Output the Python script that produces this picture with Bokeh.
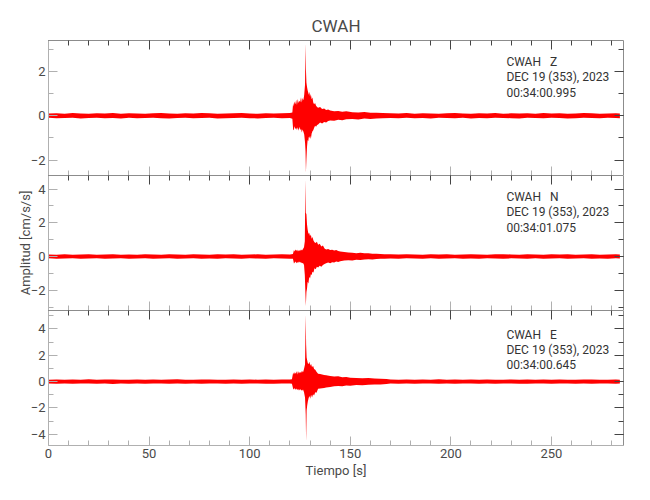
from bokeh.plotting import figure
from bokeh.models import Range1d, LinearAxis, SingleIntervalTicker, Label
from bokeh.layouts import column
from bokeh.embed import file_html
from bokeh.resources import INLINE

FONT = "Roboto"
TXT = "#4a4a4a"
NBSP = "\u00a0"

station = "CWAH"
components = ["Z", "N", "E"]
date_line = "DEC 19 (353), 2023"
start_times = ["00:34:00.995", "00:34:01.075", "00:34:00.645"]
x_label = "Tiempo [s]"
y_label = "Amplitud [cm/s/s]"

# sample times (s) of the envelope knots
t_pre = [0, 4, 8, 12, 16, 20, 24, 28, 32, 36, 40, 44, 48, 52, 56, 60, 64, 68, 72, 76,
         80, 84, 88, 92, 96, 100, 104, 108, 112, 116, 120]
t_post = [170, 174, 178, 182, 186, 190, 194, 198, 202, 206, 210, 214, 218, 222, 226,
          230, 234, 238, 242, 246, 250, 254, 258, 262, 266, 270, 274, 278, 282, 284]

# ---- Z component (upper / lower envelope, cm/s/s)
z_pre_hi = [0.10, 0.11, 0.09, 0.12, 0.10, 0.09, 0.11, 0.10, 0.12, 0.09, 0.11, 0.10, 0.09, 0.11, 0.12,
            0.10, 0.09, 0.11, 0.10, 0.12, 0.11, 0.09, 0.10, 0.11, 0.12, 0.10, 0.09, 0.11, 0.10, 0.11, 0.12]
z_pre_lo = [-0.09, -0.11, -0.10, -0.09, -0.12, -0.10, -0.09, -0.11, -0.10, -0.12, -0.09, -0.11, -0.10,
            -0.09, -0.11, -0.12, -0.10, -0.09, -0.11, -0.10, -0.09, -0.12, -0.11, -0.10, -0.09, -0.11,
            -0.12, -0.10, -0.09, -0.11, -0.10]
z_ev_t = [121.2, 121.6, 121.9, 122.3, 122.7, 123.1, 123.5, 123.9, 124.3, 124.7, 125.1, 125.5, 125.9,
          126.3, 126.7, 127.1, 127.5, 127.75, 127.95, 128.2, 128.5, 128.8, 129.1, 129.4, 129.7, 130.0,
          130.4, 130.8, 131.2, 131.6, 132.0, 132.5, 133.0, 133.5, 134.0, 135, 136, 137, 138, 139, 140,
          142, 144, 146, 148, 151, 154, 157, 160, 163, 166]
z_ev_hi = [0.15, 0.58, 0.42, 0.64, 0.52, 0.72, 0.48, 0.76, 0.58, 0.68,
           0.62, 0.84, 0.60, 0.80, 0.70, 0.95, 1.40, 3.26, 2.10, 1.50,
           1.30, 1.15, 1.05, 0.95, 1.08, 0.85, 0.98, 0.75, 0.82, 0.60,
           0.52, 0.58, 0.45, 0.40, 0.36, 0.40, 0.30, 0.33, 0.26, 0.28,
           0.24, 0.20, 0.22, 0.18, 0.20, 0.16, 0.15, 0.17, 0.14, 0.13, 0.12]
z_ev_lo = [-0.14, -0.62, -0.66, -0.48, -0.60, -0.55, -0.64, -0.52, -0.68, -0.50,
           -0.66, -0.58, -0.76, -0.62, -0.72, -0.85, -1.20, -1.60, -2.55, -1.95,
           -1.40, -1.10, -1.15, -0.95, -1.00, -0.90, -1.05, -0.80, -0.70, -0.65,
           -0.55, -0.45, -0.50, -0.42, -0.40, -0.30, -0.35, -0.28, -0.30, -0.24,
           -0.22, -0.23, -0.18, -0.20, -0.16, -0.15, -0.17, -0.13, -0.15, -0.12, -0.11]
z_post_hi = [0.11, 0.10, 0.12, 0.09, 0.11, 0.10, 0.09, 0.11, 0.12, 0.10, 0.09, 0.11, 0.10, 0.12, 0.09,
             0.11, 0.10, 0.11, 0.09, 0.12, 0.10, 0.11, 0.09, 0.10, 0.12, 0.11, 0.09, 0.10, 0.11, 0.10]
z_post_lo = [-0.10, -0.11, -0.09, -0.11, -0.10, -0.12, -0.09, -0.10, -0.11, -0.09, -0.12, -0.10, -0.11,
             -0.09, -0.10, -0.11, -0.12, -0.09, -0.10, -0.11, -0.09, -0.10, -0.12, -0.11, -0.09, -0.10,
             -0.11, -0.09, -0.10, -0.11]

# ---- N component
n_pre_hi = [0.12, 0.11, 0.13, 0.11, 0.12, 0.14, 0.11, 0.12, 0.13, 0.11, 0.12, 0.11, 0.13, 0.12, 0.11,
            0.14, 0.12, 0.11, 0.13, 0.12, 0.11, 0.13, 0.12, 0.14, 0.11, 0.12, 0.13, 0.11, 0.12, 0.13, 0.12]
n_pre_lo = [-0.11, -0.13, -0.12, -0.11, -0.14, -0.12, -0.11, -0.13, -0.12, -0.11, -0.13, -0.12, -0.11,
            -0.14, -0.12, -0.11, -0.13, -0.12, -0.11, -0.13, -0.12, -0.14, -0.11, -0.12, -0.13, -0.11,
            -0.12, -0.14, -0.11, -0.12, -0.13]
n_ev_t = [121.5, 122.0, 122.4, 122.8, 123.2, 123.6, 124.0, 124.5, 125.0, 125.5, 126.0, 126.5, 127.0,
          127.4, 127.7, 127.9, 128.2, 128.5, 128.8, 129.2, 129.6, 130.0, 130.4, 130.8, 131.2, 131.7,
          132.2, 132.8, 133.4, 134.0, 134.8, 135.6, 136.4, 137.2, 138, 139, 140, 141, 142, 143, 144,
          145, 147, 149, 151, 153, 155, 157, 159, 161, 163, 165, 167]
n_ev_hi = [0.15, 0.38, 0.30, 0.42, 0.34, 0.40, 0.30, 0.38, 0.32, 0.42,
           0.36, 0.45, 0.55, 0.90, 4.57, 2.60, 2.50, 1.90, 1.60, 1.35,
           1.40, 1.20, 1.30, 1.05, 1.15, 0.95, 0.85, 0.80, 0.88, 0.70,
           0.75, 0.60, 0.65, 0.48, 0.42, 0.45, 0.38, 0.40, 0.35, 0.38,
           0.32, 0.30, 0.26, 0.24, 0.22, 0.20, 0.22, 0.19, 0.20, 0.17, 0.16, 0.15, 0.14]
n_ev_lo = [-0.14, -0.42, -0.36, -0.30, -0.40, -0.32, -0.38, -0.30, -0.36, -0.34,
           -0.40, -0.38, -0.50, -1.10, -2.20, -2.94, -2.10, -1.90, -1.50, -1.60,
           -1.20, -1.30, -1.05, -1.10, -0.90, -0.95, -0.70, -0.75, -0.60, -0.65,
           -0.55, -0.60, -0.50, -0.45, -0.40, -0.36, -0.40, -0.34, -0.36, -0.30,
           -0.33, -0.28, -0.24, -0.22, -0.24, -0.19, -0.20, -0.18, -0.17, -0.18, -0.15, -0.14, -0.13]
n_post_hi = [0.13, 0.12, 0.14, 0.12, 0.11, 0.13, 0.12, 0.14, 0.11, 0.12, 0.13, 0.12, 0.11, 0.13, 0.14,
             0.12, 0.11, 0.13, 0.12, 0.11, 0.13, 0.12, 0.14, 0.11, 0.12, 0.13, 0.11, 0.12, 0.13, 0.12]
n_post_lo = [-0.12, -0.13, -0.11, -0.12, -0.14, -0.11, -0.13, -0.12, -0.11, -0.13, -0.12, -0.14, -0.11,
             -0.12, -0.13, -0.11, -0.12, -0.14, -0.11, -0.13, -0.12, -0.11, -0.13, -0.12, -0.11, -0.14,
             -0.12, -0.13, -0.11, -0.12]

# ---- E component
e_pre_hi = [0.15, 0.17, 0.14, 0.16, 0.15, 0.18, 0.14, 0.16, 0.17, 0.15, 0.14, 0.16, 0.15, 0.17, 0.14,
            0.16, 0.18, 0.15, 0.14, 0.16, 0.17, 0.15, 0.14, 0.16, 0.15, 0.17, 0.14, 0.16, 0.15, 0.17, 0.16]
e_pre_lo = [-0.14, -0.16, -0.15, -0.17, -0.14, -0.15, -0.16, -0.14, -0.18, -0.15, -0.16, -0.14, -0.17,
            -0.15, -0.14, -0.16, -0.15, -0.17, -0.14, -0.16, -0.15, -0.14, -0.17, -0.15, -0.16, -0.14,
            -0.15, -0.17, -0.16, -0.14, -0.15]
e_ev_t = [121.0, 121.6, 122.0, 122.4, 122.8, 123.2, 123.6, 124.0, 124.5, 125.0, 125.5, 126.0, 126.5,
          127.0, 127.5, 127.85, 128.05, 128.3, 128.6, 128.9, 129.3, 129.7, 130.1, 130.5, 131.0, 131.5,
          132.0, 132.6, 133.2, 134, 135, 136, 137, 138, 140, 142, 144, 146, 148, 150, 153, 156, 159,
          162, 165, 168]
e_ev_hi = [0.18, 0.70, 0.55, 0.72, 0.60, 0.78, 0.55, 0.80, 0.62, 0.75,
           0.66, 0.83, 0.70, 0.95, 1.30, 5.10, 2.80, 1.84, 1.60, 1.40,
           1.34, 1.50, 1.20, 1.35, 1.10, 1.20, 0.95, 0.90, 0.75, 0.60,
           0.58, 0.55, 0.50, 0.48, 0.42, 0.38, 0.40, 0.34, 0.35, 0.30,
           0.28, 0.26, 0.27, 0.24, 0.22, 0.20]
e_ev_lo = [-0.16, -0.55, -0.60, -0.48, -0.62, -0.52, -0.66, -0.55, -0.68, -0.58,
           -0.62, -0.70, -0.60, -0.80, -1.20, -2.50, -4.55, -2.20, -1.80, -1.50,
           -1.25, -1.10, -1.30, -1.00, -1.20, -0.95, -1.05, -0.80, -0.85, -0.55,
           -0.52, -0.50, -0.48, -0.45, -0.40, -0.36, -0.34, -0.35, -0.30, -0.32,
           -0.26, -0.27, -0.24, -0.22, -0.21, -0.19]
e_post_hi = [0.16, 0.15, 0.17, 0.14, 0.16, 0.15, 0.18, 0.14, 0.16, 0.15, 0.17, 0.14, 0.16, 0.15, 0.14,
             0.17, 0.15, 0.16, 0.14, 0.17, 0.15, 0.16, 0.14, 0.15, 0.17, 0.16, 0.14, 0.15, 0.16, 0.15]
e_post_lo = [-0.15, -0.17, -0.14, -0.16, -0.15, -0.14, -0.17, -0.15, -0.16, -0.14, -0.15, -0.17, -0.14,
             -0.16, -0.15, -0.14, -0.16, -0.17, -0.15, -0.14, -0.16, -0.15, -0.14, -0.17, -0.15, -0.16,
             -0.14, -0.15, -0.17, -0.15]

y_ranges = [(-2.7, 3.4), (-3.2, 4.8), (-4.85, 5.4)]
label_y = [2.75, 3.95, 4.1]
x_max = 285.8

traces = [
    (t_pre + z_ev_t + t_post, z_pre_hi + z_ev_hi + z_post_hi, z_pre_lo + z_ev_lo + z_post_lo),
    (t_pre + n_ev_t + t_post, n_pre_hi + n_ev_hi + n_post_hi, n_pre_lo + n_ev_lo + n_post_lo),
    (t_pre + e_ev_t + t_post, e_pre_hi + e_ev_hi + e_post_hi, e_pre_lo + e_ev_lo + e_post_lo),
]
for t, hi, lo in traces:
    assert len(t) == len(hi) == len(lo), (len(t), len(hi), len(lo))

x_range = Range1d(0, x_max)
LIGHT = "#b0b0b0"
DARK = "#444444"


def style_axis(ax, light, labels):
    ax.axis_line_color = LIGHT if light else "#8c8c8c"
    ax.major_tick_line_color = LIGHT if light else DARK
    ax.minor_tick_line_color = LIGHT if light else DARK
    ax.major_tick_in = 9
    ax.major_tick_out = 0
    ax.minor_tick_in = 5
    ax.minor_tick_out = 0
    if labels:
        ax.major_label_text_font = FONT
        ax.major_label_text_font_size = "13px"
        ax.major_label_text_color = TXT
        ax.major_label_standoff = 3
    else:
        ax.major_label_text_color = None
        ax.major_label_text_font_size = "1px"
        ax.major_label_standoff = 0


figs = []
for i in range(3):
    first = i == 0
    last = i == 2
    p = figure(frame_width=575, frame_height=135, x_range=x_range,
               y_range=Range1d(*y_ranges[i]), output_backend="svg", toolbar_location=None,
               x_axis_location=None, y_axis_location=None,
               min_border_left=48, min_border_right=11,
               min_border_top=40 if first else 0, min_border_bottom=47 if last else 0,
               title=station if first else None)
    p.outline_line_color = None
    p.grid.grid_line_color = None
    p.background_fill_color = "white"
    p.border_fill_color = "white"
    if first:
        p.title.align = "center"
        p.title.text_font = FONT
        p.title.text_font_size = "17px"
        p.title.text_font_style = "normal"
        p.title.text_color = TXT

    xt = SingleIntervalTicker(interval=50, num_minor_ticks=5)
    yt = SingleIntervalTicker(interval=2, num_minor_ticks=2)

    left = LinearAxis(ticker=yt)
    style_axis(left, True, True)
    if i == 1:
        left.axis_label = y_label
        left.axis_label_text_font = FONT
        left.axis_label_text_font_size = "13px"
        left.axis_label_text_font_style = "normal"
        left.axis_label_text_color = TXT
        left.axis_label_standoff = -5
    p.add_layout(left, "left")

    right = LinearAxis(ticker=yt)
    style_axis(right, False, False)
    p.add_layout(right, "right")

    top = LinearAxis(ticker=xt)
    style_axis(top, False, False)
    p.add_layout(top, "above")

    bottom = LinearAxis(ticker=xt)
    style_axis(bottom, True, last)
    if last:
        bottom.axis_label = x_label
        bottom.axis_label_text_font = FONT
        bottom.axis_label_text_font_size = "13px"
        bottom.axis_label_text_font_style = "normal"
        bottom.axis_label_text_color = TXT
        bottom.axis_label_standoff = 2
    p.add_layout(bottom, "below")

    t, hi, lo = traces[i]
    p.varea(x=t, y1=lo, y2=hi, fill_color="#ff0000")

    lab = Label(x=227.6, y=label_y[i],
                text=f"{station}{NBSP*3}{components[i]}\n{date_line}\n{start_times[i]}",
                text_font=FONT, text_font_size="12px", text_color="#333333",
                text_baseline="top", text_align="left", text_line_height=1.1)
    p.add_layout(lab)
    figs.append(p)

layout = column(*figs, spacing=0)
open("out.html", "w").write(file_html(layout, INLINE))
